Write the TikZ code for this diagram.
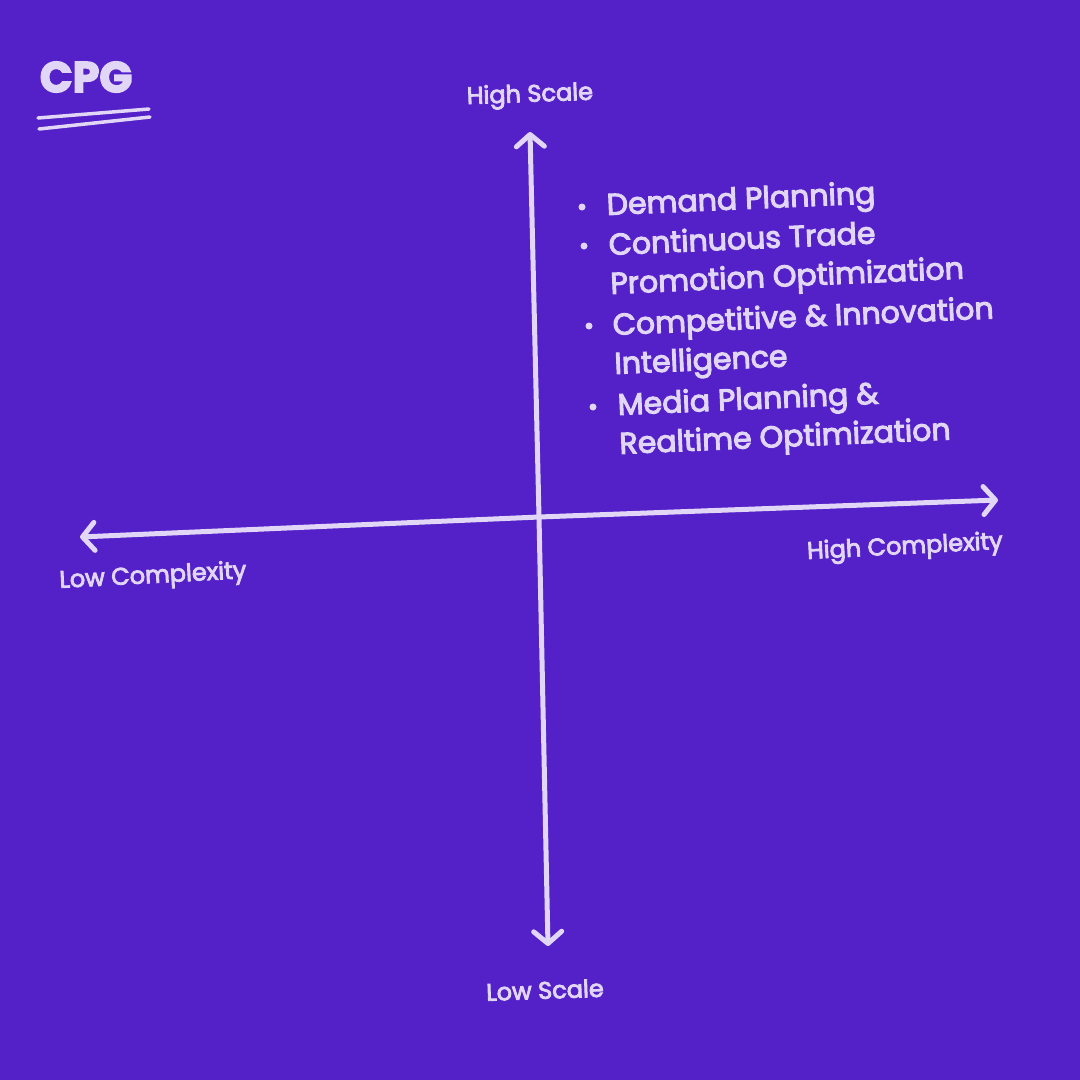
\documentclass[tikz,border=0pt]{standalone}
\usepackage{fontspec}
\setmainfont{Poppins}[FakeBold=3.5]
\usetikzlibrary{arrows.meta}
\definecolor{bg}{HTML}{5420C8}
\definecolor{ink}{HTML}{E2D6F7}
\newcommand{\twolines}[2]{\vtop{\baselineskip=39pt\hbox{#1}\hbox{#2}}}
\tikzset{
  axis/.style={draw=ink, line width=5pt, line cap=round,
    -{Straight Barb[length=12pt,width=28pt,line width=5pt,round]}},
  lbl/.style={text=ink, font=\fontsize{24}{28}\selectfont, inner sep=0pt},
  item/.style={text=ink, font=\fontsize{30}{39}\selectfont, inner sep=0pt, anchor=base west,
    rotate=2.5},
  dot/.style={circle, fill=ink, inner sep=0pt, minimum size=7pt},
  uline/.style={draw=ink, line width=3.5pt, line cap=round}
}
\begin{document}
\begin{tikzpicture}[x=1pt,y=-1pt]
\fill[bg] (0,0) rectangle (1080,1080);
\useasboundingbox (0,0) rectangle (1080,1080);
% title
\node[text=ink, font=\fontsize{43}{48}\selectfont\bfseries, inner sep=0pt] (cpg) at (86,77) {CPG};
\coordinate (u1a) at (38,118); \coordinate (u1b) at (149,109);
\coordinate (u2a) at (39,129); \coordinate (u2b) at (150,117);
\draw[uline] (u1a) -- (u1b);
\draw[uline] (u2a) -- (u2b);
% axes
\coordinate (c) at (539,517);
\coordinate (top) at (530,132);
\coordinate (bot) at (548,946);
\coordinate (left) at (80,537);
\coordinate (right) at (998,500);
\draw[axis] (c) -- (top);
\draw[axis] (c) -- (bot);
\draw[axis] (c) -- (left);
\draw[axis] (c) -- (right);
% axis labels
\node[lbl, rotate=2] (hs) at (530,96) {High Scale};
\node[lbl, rotate=2] (ls) at (545,990) {Low Scale};
\node[lbl, rotate=3] (lc) at (153,577) {Low Complexity};
\node[lbl, rotate=3] (hc) at (905,548) {High Complexity};
% bullet list
\node[dot] (b1) at (582,207) {};
\node[item] (t1) at (607,215) {Demand Planning};
\node[dot] (b2) at (584,246) {};
\node[item] (t2) at (609,255) {\twolines{Continuous Trade}{Promotion Optimization}};
\node[dot] (b3) at (589,326) {};
\node[item] (t3) at (613,335) {\twolines{Competitive \& Innovation}{Intelligence}};
\node[dot] (b4) at (593,407) {};
\node[item] (t4) at (618,415) {\twolines{Media Planning \&}{Realtime Optimization}};
\end{tikzpicture}
\end{document}
